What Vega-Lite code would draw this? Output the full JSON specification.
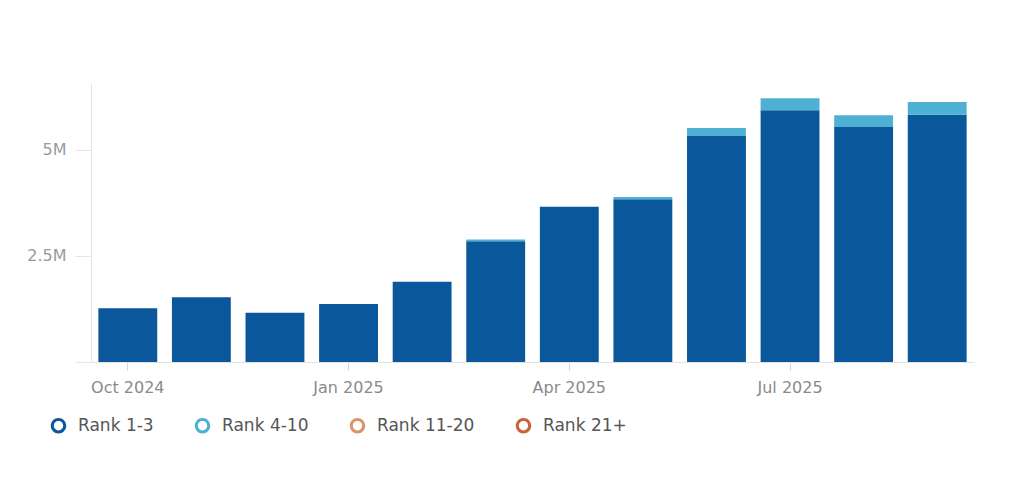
{
  "$schema": "https://vega.github.io/schema/vega-lite/v6.json",
  "background": "white",
  "padding": {"left": 26, "top": 83, "right": 20, "bottom": 10},
  "width": 883,
  "height": 279,
  "config": {
    "view": {"stroke": null},
    "font": "DejaVu Sans"
  },
  "data": {
    "values": [
      {"month": "Oct 2024", "rank": "Rank 1-3", "value": 1270000},
      {"month": "Nov 2024", "rank": "Rank 1-3", "value": 1530000},
      {"month": "Dec 2024", "rank": "Rank 1-3", "value": 1160000},
      {"month": "Jan 2025", "rank": "Rank 1-3", "value": 1370000},
      {"month": "Feb 2025", "rank": "Rank 1-3", "value": 1890000},
      {"month": "Mar 2025", "rank": "Rank 1-3", "value": 2850000},
      {"month": "Mar 2025", "rank": "Rank 4-10", "value": 40000},
      {"month": "Apr 2025", "rank": "Rank 1-3", "value": 3660000},
      {"month": "May 2025", "rank": "Rank 1-3", "value": 3840000},
      {"month": "May 2025", "rank": "Rank 4-10", "value": 50000},
      {"month": "Jun 2025", "rank": "Rank 1-3", "value": 5330000},
      {"month": "Jun 2025", "rank": "Rank 4-10", "value": 190000},
      {"month": "Jul 2025", "rank": "Rank 1-3", "value": 5940000},
      {"month": "Jul 2025", "rank": "Rank 4-10", "value": 280000},
      {"month": "Aug 2025", "rank": "Rank 1-3", "value": 5540000},
      {"month": "Aug 2025", "rank": "Rank 4-10", "value": 280000},
      {"month": "Sep 2025", "rank": "Rank 1-3", "value": 5830000},
      {"month": "Sep 2025", "rank": "Rank 4-10", "value": 300000}
    ]
  },
  "mark": {"type": "bar"},
  "encoding": {
    "x": {
      "field": "month",
      "type": "ordinal",
      "sort": null,
      "title": null,
      "scale": {"paddingInner": 0.2, "paddingOuter": 0.1},
      "axis": {
        "labelAngle": 0,
        "labelExpr": "indexof(['Oct 2024','Jan 2025','Apr 2025','Jul 2025'], datum.value) >= 0 ? datum.value : ''",
        "labelColor": "#8a8a8a",
        "labelFontSize": 16,
        "labelPadding": 9,
        "domainColor": "#e3e3e3",
        "tickColor": "#ccd6eb",
        "tickSize": 8,
        "tickOpacity": {
          "condition": {"test": "indexof(['Oct 2024','Jan 2025','Apr 2025','Jul 2025'], datum.value) >= 0", "value": 1},
          "value": 0
        }
      }
    },
    "y": {
      "field": "value",
      "type": "quantitative",
      "stack": "zero",
      "title": null,
      "scale": {"domain": [0, 6580000], "nice": false},
      "axis": {
        "values": [0, 2500000, 5000000],
        "labelExpr": "datum.value == 0 ? '' : (datum.value / 1000000) + 'M'",
        "labelColor": "#9a9a9a",
        "labelFontSize": 16,
        "labelPadding": 9,
        "grid": false,
        "domainColor": "#e6e6e6",
        "tickColor": "#e6e6e6",
        "tickSize": 16,
        "minExtent": 60,
        "maxExtent": 60
      }
    },
    "order": {"field": "rank", "sort": "ascending"},
    "color": {
      "field": "rank",
      "type": "nominal",
      "scale": {
        "domain": ["Rank 1-3", "Rank 4-10", "Rank 11-20", "Rank 21+"],
        "range": ["#0a579b", "#4eb1d3", "#d9956b", "#c9643a"]
      },
      "legend": {
        "title": null,
        "orient": "none",
        "direction": "horizontal",
        "legendX": -41,
        "legendY": 334,
        "symbolType": "M-1,0A1,1,0,1,1,1,0A1,1,0,1,1,-1,0Z M-0.6,0A0.6,0.6,0,1,0,0.6,0A0.6,0.6,0,1,0,-0.6,0Z",
        "symbolSize": 240,
        "symbolStrokeWidth": 0,
        "labelFontSize": 17,
        "labelColor": "#555555",
        "columnPadding": 40,
        "labelOffset": 11
      }
    }
  }
}
